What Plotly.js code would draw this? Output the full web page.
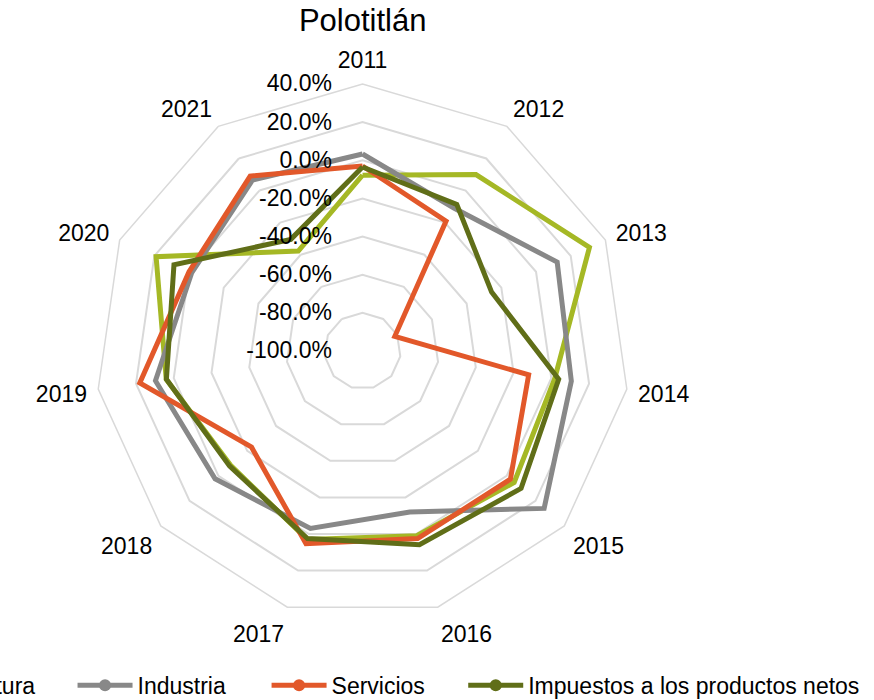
<!DOCTYPE html>
<html>
<head>
<meta charset="utf-8">
<script src="https://cdn.plot.ly/plotly-3.0.1.min.js"></script>
<style>
  html, body { margin: 0; padding: 0; background: #fff; }
  #chart { width: 874px; height: 700px; }
</style>
</head>
<body>
<div id="chart"></div>
<script>
var years = ['2011', '2012', '2013', '2014', '2015', '2016', '2017', '2018', '2019', '2020', '2021'];

// tasas de crecimiento (fracción)
var agricultura = [-0.078, 0.10, 0.308, 0.018, 0.052, 0.009, 0.030, -0.085, 0.040, 0.190, -0.377];
var industria   = [0.033, -0.110, 0.122, 0.106, 0.260, -0.120, -0.030, 0.023, 0.097, -0.015, 0.066];
var servicios   = [-0.030, -0.190, -0.814, -0.120, 0.026, 0.025, 0.053, -0.230, 0.180, 0.000, 0.090];
var impuestos   = [-0.035, -0.086, -0.256, 0.039, 0.100, 0.059, 0.025, -0.078, 0.039, 0.087, -0.304];

// eje radial
var rTicks  = [-1, -0.8, -0.6, -0.4, -0.2, 0, 0.2, 0.4];
var rLabels = ['-100.0%', '-80.0%', '-60.0%', '-40.0%', '-20.0%', '0.0%', '20.0%', '40.0%'];

var names  = ['Agricultura', 'Industria', 'Servicios', 'Impuestos a los productos netos'];
var colors = ['#A5B825', '#888888', '#E2582A', '#606E18'];
var series = [agricultura, industria, servicios, impuestos];
var legends = ['legend', 'legend2', 'legend3', 'legend4'];

var fnt = '"Liberation Sans", Arial, sans-serif';

var data = series.map(function (vals, i) {
  // cerrar el polígono
  return {
    type: 'scatterpolar',
    r: vals.concat([vals[0]]),
    theta: years.concat([years[0]]),
    name: names[i],
    mode: 'lines+markers',
    line: { color: colors[i], width: 5 },
    marker: { color: colors[i], size: 12 },
    legend: legends[i],
    hoverinfo: 'theta+r'
  };
});

function leg(x) {
  return {
    x: x, xanchor: 'left', y: 0.021, yanchor: 'middle',
    orientation: 'h', itemwidth: 55,
    font: { family: fnt, size: 23, color: '#000' },
    bgcolor: 'rgba(0,0,0,0)'
  };
}

var layout = {
  width: 874,
  height: 700,
  margin: { l: 0, r: 0, t: 0, b: 0, autoexpand: false },
  paper_bgcolor: '#fff',
  font: { family: fnt, color: '#000' },
  title: {
    text: 'Polotitlán',
    x: 0.415, xanchor: 'center',
    y: 0.971, yanchor: 'middle',
    font: { family: fnt, size: 31, color: '#000' }
  },
  showlegend: true,
  legend: leg(-0.16),
  legend2: leg(0.083),
  legend3: leg(0.305),
  legend4: leg(0.53),
  polar: {
    domain: { x: [0.1093, 0.7203], y: [0.1171, 0.88] },
    bgcolor: '#fff',
    gridshape: 'linear',
    angularaxis: {
      type: 'category',
      categoryarray: years,
      rotation: 90,
      direction: 'clockwise',
      showgrid: false,
      showline: true,
      linecolor: '#D9D9D9',
      linewidth: 1.5,
      ticks: 'outside',
      ticklen: 6,
      tickcolor: 'rgba(0,0,0,0)',
      tickfont: { family: fnt, size: 23, color: '#000' }
    },
    radialaxis: {
      range: [-1, 0.4],
      tickmode: 'array',
      tickvals: rTicks,
      ticktext: rLabels,
      angle: 90,
      side: 'counterclockwise',
      tickangle: 90,
      showline: false,
      ticks: 'outside',
      ticklen: 22,
      tickcolor: 'rgba(0,0,0,0)',
      gridcolor: '#D9D9D9',
      gridwidth: 1.5,
      tickfont: { family: fnt, size: 23, color: '#000' }
    }
  }
};

Plotly.newPlot('chart', data, layout, { displayModeBar: false });
</script>
</body>
</html>
